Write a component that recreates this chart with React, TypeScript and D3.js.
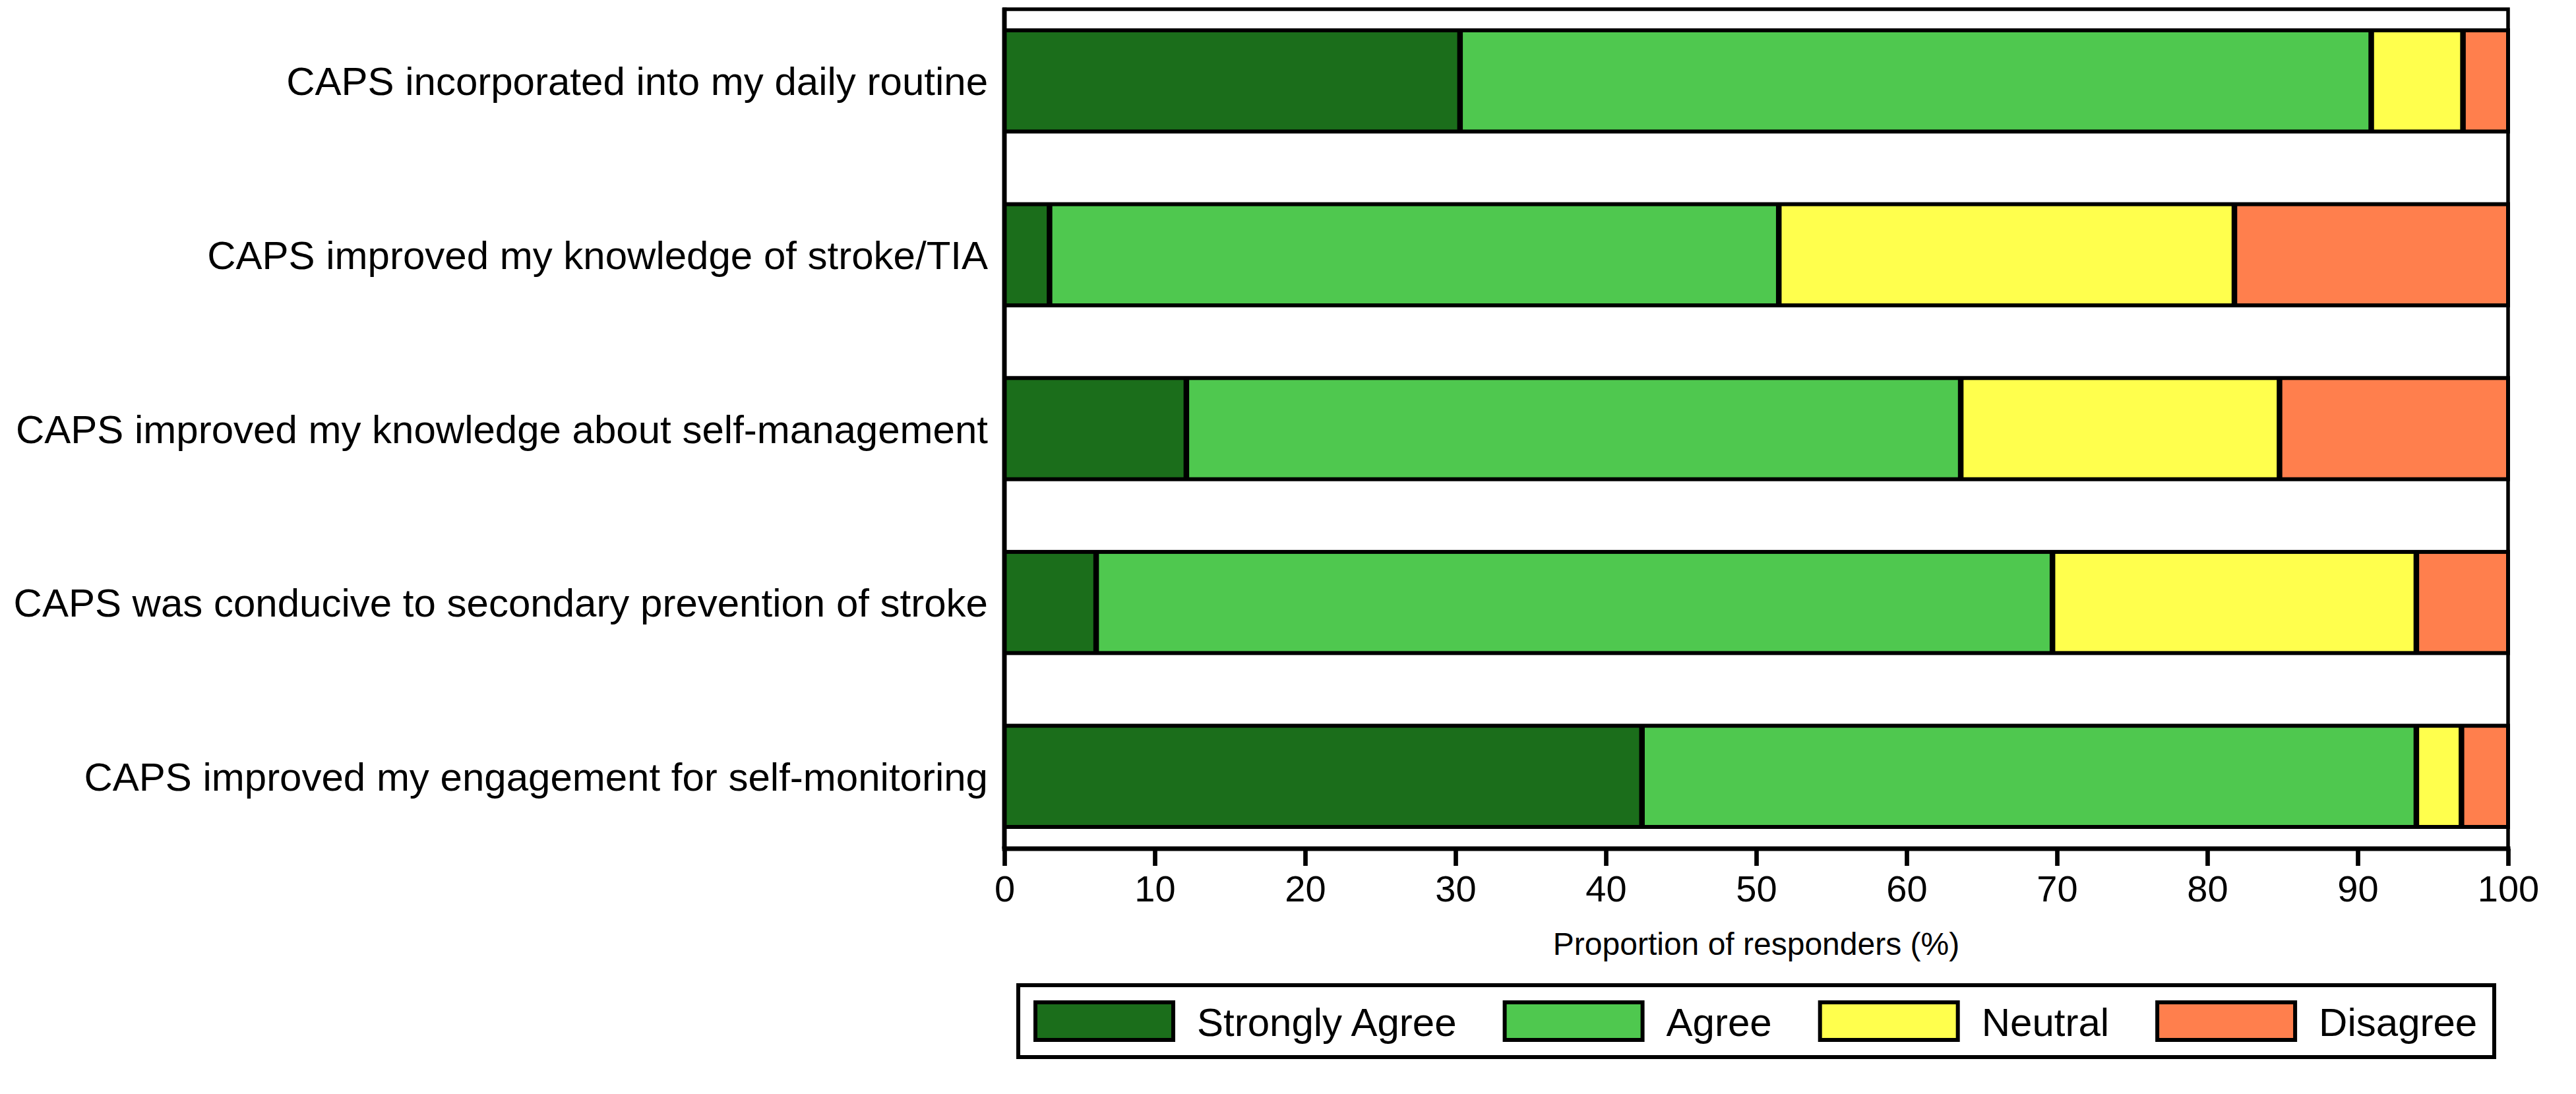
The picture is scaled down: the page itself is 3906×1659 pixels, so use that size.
import React, { useRef, useEffect } from "react";
import * as d3 from "d3";

// Survey statements (top to bottom)
const statements = [
    "CAPS incorporated into my daily routine",
    "CAPS improved my knowledge of stroke/TIA",
    "CAPS improved my knowledge about self-management",
    "CAPS was conducive to secondary prevention of stroke",
    "CAPS improved my engagement for self-monitoring",
];

// Response categories and their percentages per statement
const responses = ["Strongly Agree", "Agree", "Neutral", "Disagree"];
const stronglyAgree = [30.3, 3.0, 12.1, 6.1, 42.4];
const agree = [60.6, 48.5, 51.5, 63.6, 51.5];
const neutral = [6.1, 30.3, 21.2, 24.2, 3.0];
const disagree = [3.0, 18.2, 15.2, 6.1, 3.1];

const xTicks = [0, 10, 20, 30, 40, 50, 60, 70, 80, 90, 100];

const colors = ["#1b6e1b", "#4fc84f", "#ffff4d", "#ff7f4d"];

const FONT = "'Liberation Sans', Arial, Helvetica, sans-serif";

export default function App() {
    const svgRef = useRef<SVGSVGElement>(null);

    useEffect(() => {
        if (!svgRef.current) return;
        document.body.style.margin = "0";

        const svg = d3.select(svgRef.current);
        svg.selectAll("*").remove();

        const width = 3906;
        const height = 1659;
        const plot = { left: 1523, right: 3803, top: 14, bottom: 1287 };

        svg.attr("width", width).attr("height", height);

        const x = d3.scaleLinear().domain([0, 100]).range([plot.left, plot.right]);
        const y = d3.scaleBand<string>()
            .domain(statements)
            .range([46, 1254])
            .paddingInner(0.418)
            .paddingOuter(0);

        // Stack the series
        const series = [stronglyAgree, agree, neutral, disagree];
        const rows = statements.map((s, i) => {
            let cum = 0;
            return series.map((vals, k) => {
                const x0 = cum;
                cum += vals[i];
                return { statement: s, key: responses[k], x0, x1: k === series.length - 1 ? 100 : cum, color: colors[k] };
            });
        });

        const g = svg.append("g");

        // Segments
        rows.forEach(segs => {
            g.selectAll(null)
                .data(segs)
                .enter()
                .append("rect")
                .attr("x", d => x(d.x0))
                .attr("y", d => y(d.statement)!)
                .attr("width", d => x(d.x1) - x(d.x0))
                .attr("height", y.bandwidth())
                .attr("fill", d => d.color);

            // Outline of the whole bar
            g.append("rect")
                .attr("x", x(0))
                .attr("y", y(segs[0].statement)!)
                .attr("width", x(100) - x(0))
                .attr("height", y.bandwidth())
                .attr("fill", "none")
                .attr("stroke", "#000")
                .attr("stroke-width", 6);

            // Separators between segments
            g.selectAll(null)
                .data(segs.slice(1))
                .enter()
                .append("line")
                .attr("x1", d => x(d.x0))
                .attr("x2", d => x(d.x0))
                .attr("y1", d => y(d.statement)!)
                .attr("y2", d => y(d.statement)! + y.bandwidth())
                .attr("stroke", "#000")
                .attr("stroke-width", 8.5);
        });

        // Plot frame
        g.append("rect")
            .attr("x", plot.left)
            .attr("y", plot.top)
            .attr("width", plot.right - plot.left)
            .attr("height", plot.bottom - plot.top)
            .attr("fill", "none")
            .attr("stroke", "#000")
            .attr("stroke-width", 5.5);
        g.append("line")
            .attr("x1", plot.left).attr("x2", plot.left)
            .attr("y1", plot.top - 2.5).attr("y2", plot.bottom)
            .attr("stroke", "#000").attr("stroke-width", 7);
        g.append("line")
            .attr("x1", plot.left - 3.5).attr("x2", plot.right + 3.5)
            .attr("y1", plot.bottom).attr("y2", plot.bottom)
            .attr("stroke", "#000").attr("stroke-width", 7);

        // X axis
        g.append("g")
            .attr("transform", `translate(0,${plot.bottom})`)
            .call(d3.axisBottom(x).tickValues(xTicks).tickSize(26).tickSizeOuter(0).tickPadding(14).tickFormat(d => `${d}`))
            .call(a => a.select(".domain").remove())
            .call(a => a.selectAll(".tick line").attr("stroke", "#000").attr("stroke-width", 6.7))
            .call(a => a.selectAll(".tick text")
                .attr("fill", "#000")
                .attr("font-family", FONT)
                .attr("font-size", 56));

        // X axis title
        g.append("text")
            .attr("x", (plot.left + plot.right) / 2)
            .attr("y", 1448)
            .attr("text-anchor", "middle")
            .attr("font-family", FONT)
            .attr("font-size", 48)
            .attr("fill", "#000")
            .text("Proportion of responders (%)");

        // Category labels
        g.selectAll(null)
            .data(statements)
            .enter()
            .append("text")
            .attr("x", 1498)
            .attr("y", d => y(d)! + y.bandwidth() / 2)
            .attr("dy", "0.36em")
            .attr("text-anchor", "end")
            .attr("font-family", FONT)
            .attr("font-size", 60)
            .attr("fill", "#000")
            .text(d => d);

        // Legend
        const legend = g.append("g");
        legend.append("rect")
            .attr("x", 1544)
            .attr("y", 1494)
            .attr("width", 3782 - 1544)
            .attr("height", 1603 - 1494)
            .attr("fill", "#fff")
            .attr("stroke", "#000")
            .attr("stroke-width", 6);

        let lx = 1570;
        responses.forEach((label, i) => {
            legend.append("rect")
                .attr("x", lx)
                .attr("y", 1520)
                .attr("width", 209)
                .attr("height", 57)
                .attr("fill", colors[i])
                .attr("stroke", "#000")
                .attr("stroke-width", 6);
            const t = legend.append("text")
                .attr("x", lx + 245)
                .attr("y", 1571)
                .attr("font-family", FONT)
                .attr("font-size", 60)
                .attr("fill", "#000")
                .text(label);
            const w = (t.node() as SVGTextElement).getComputedTextLength();
            lx = lx + 245 + w + 73;
        });
    }, []);

    return <svg ref={svgRef} style={{ display: "block", background: "#fff" }} />;
}
